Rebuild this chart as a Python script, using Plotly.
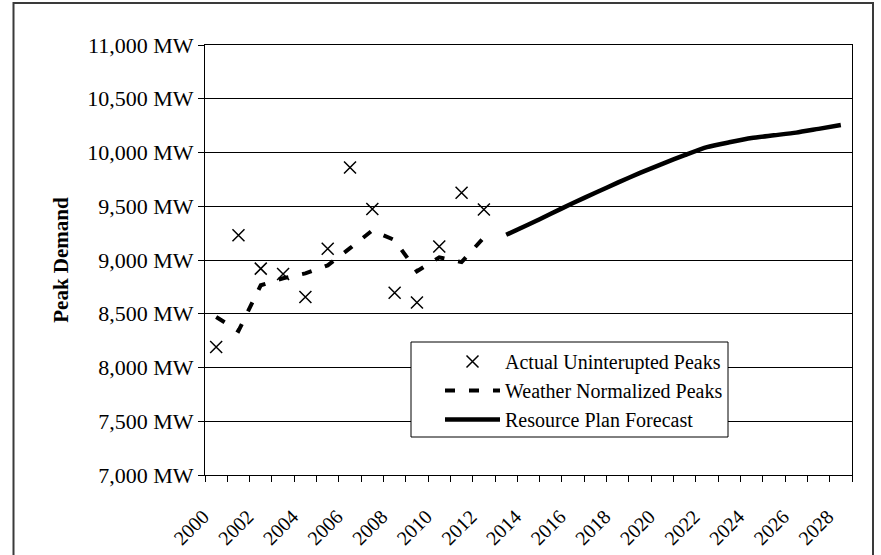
import plotly.graph_objects as go

# ---------------- data ----------------
actual_years = [2000, 2001, 2002, 2003, 2004, 2005, 2006, 2007, 2008, 2009, 2010, 2011, 2012]
actual_peaks = [8190, 9230, 8920, 8870, 8655, 9105, 9860, 9475, 8695, 8605, 9125, 9625, 9470]

normalized_years = [2000, 2001, 2002, 2003, 2004, 2005, 2006, 2007, 2008, 2009, 2010, 2011, 2012]
normalized_peaks = [8470, 8340, 8765, 8830, 8875, 8950, 9110, 9275, 9185, 8895, 9025, 8980, 9210]

forecast_years = [2013, 2014, 2015, 2016, 2017, 2018, 2019, 2020, 2021, 2022, 2023, 2024, 2025, 2026, 2027, 2028]
forecast_peaks = [9235, 9330, 9430, 9530, 9625, 9720, 9810, 9895, 9975, 10050, 10095, 10135, 10160, 10185, 10220, 10255]

y_tick_vals = [7000, 7500, 8000, 8500, 9000, 9500, 10000, 10500, 11000]
y_tick_text = ["7,000 MW", "7,500 MW", "8,000 MW", "8,500 MW", "9,000 MW",
               "9,500 MW", "10,000 MW", "10,500 MW", "11,000 MW"]
x_tick_vals = [2000, 2002, 2004, 2006, 2008, 2010, 2012, 2014, 2016, 2018, 2020, 2022, 2024, 2026, 2028]
x_tick_text = ["2000", "2002", "2004", "2006", "2008", "2010", "2012", "2014", "2016",
               "2018", "2020", "2022", "2024", "2026", "2028"]
x_boundaries = [1999.5 + i for i in range(30)]

FONT = "Liberation Serif"

fig = go.Figure()
fig.add_trace(go.Scatter(
    x=actual_years, y=actual_peaks, mode="markers",
    name="Actual Uninterupted Peaks",
    marker=dict(symbol="x-thin-open", size=12, color="black",
                line=dict(width=1.5, color="black")),
))
fig.add_trace(go.Scatter(
    x=normalized_years, y=normalized_peaks, mode="lines",
    name="Weather Normalized Peaks",
    line=dict(color="black", width=4, dash="10px,14px"),
))
fig.add_trace(go.Scatter(
    x=forecast_years, y=forecast_peaks, mode="lines",
    name="Resource Plan Forecast",
    line=dict(color="black", width=4.5, shape="spline", smoothing=0.6),
))

L, R, T, B = 205, 852, 45, 475
W, H = 881, 555
pw, ph = R - L, B - T

def px(x):
    return (x - L) / pw

def py(y):
    return (B - y) / ph

# outer chart frame
fig.add_shape(type="rect", xref="paper", yref="paper",
              x0=px(13.5), x1=px(873), y0=py(560), y1=py(3),
              line=dict(color="#3a3a3a", width=2), layer="below")
# legend box
fig.add_shape(type="rect", xref="paper", yref="paper",
              x0=px(411), x1=px(728), y0=py(437), y1=py(342),
              line=dict(color="black", width=1), fillcolor="white", layer="above")

fig.update_layout(
    width=W, height=H, autosize=False,
    margin=dict(l=L, r=W - R, t=T, b=H - B, autoexpand=False),
    paper_bgcolor="white", plot_bgcolor="white",
    font=dict(family=FONT, color="black", size=20),
    showlegend=True,
    legend=dict(x=px(440), y=py(342), xanchor="left", yanchor="top",
                bgcolor="rgba(0,0,0,0)", borderwidth=0,
                font=dict(family=FONT, size=20, color="black"),
                itemwidth=55, tracegroupgap=0),
)
fig.update_xaxes(
    range=[1999.5, 2028.5], automargin=False,
    tickmode="array", tickvals=x_tick_vals, ticktext=x_tick_text,
    tickangle=-45, ticks="", ticklabelstandoff=21, ticklabelshift=-13,
    tickfont=dict(family=FONT, size=20, color="black"),
    showgrid=False, zeroline=False,
    showline=True, linecolor="black", linewidth=1, mirror=True,
    minor=dict(tickmode="array", tickvals=x_boundaries, ticks="outside",
               ticklen=6, tickcolor="black", tickwidth=1, showgrid=False),
)
fig.update_yaxes(
    range=[7000, 11000], automargin=False,
    tickmode="array", tickvals=y_tick_vals, ticktext=y_tick_text,
    ticks="outside", ticklen=6, tickcolor="black", tickwidth=1,
    tickfont=dict(family=FONT, size=22, color="black"),
    showgrid=True, gridcolor="black", gridwidth=1, zeroline=False,
    showline=True, linecolor="black", linewidth=1, mirror=True,
    title=dict(text="<b>Peak Demand</b>", standoff=12,
               font=dict(family=FONT, size=21, color="black")),
)

fig.write_html("out.html", config={"displayModeBar": False},
               post_script="document.body.style.margin='0';")
